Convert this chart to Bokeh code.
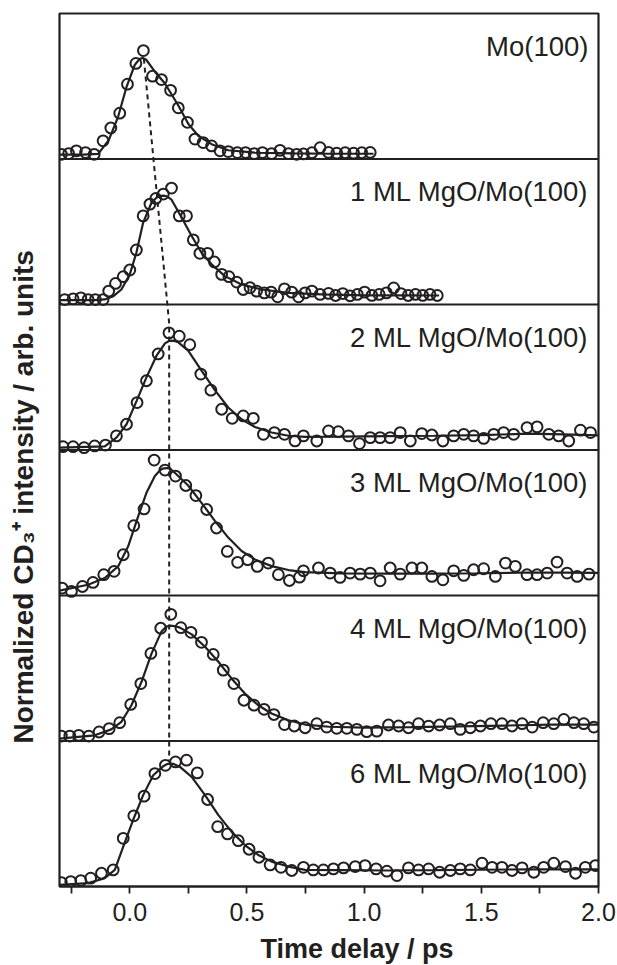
from bokeh.core.properties import value
from bokeh.embed import file_html
from bokeh.models import FixedTicker, LinearAxis, NumeralTickFormatter, Span, Title
from bokeh.plotting import figure
from bokeh.resources import INLINE

INK = "#231f20"
FONT = "Liberation Sans"

# ---- axis ticks ----
x_ticks = [0.0, 0.5, 1.0, 1.5, 2.0]
x_minor_ticks = [-0.25, 0.25, 0.75, 1.25, 1.75]

# ---- sample names (top to bottom) ----
panel_names = ["Mo(100)", "1 ML MgO/Mo(100)", "2 ML MgO/Mo(100)",
               "3 ML MgO/Mo(100)", "4 ML MgO/Mo(100)", "6 ML MgO/Mo(100)"]

# ---- Mo(100) ----
t_mo = [-0.292, -0.261, -0.228, -0.189, -0.152, -0.114, -0.081, -0.043, -0.010, 0.026,
        0.058, 0.097, 0.135, 0.174, 0.207, 0.246, 0.278, 0.313, 0.349, 0.385,
        0.420, 0.459, 0.494, 0.531, 0.566, 0.605, 0.641, 0.677, 0.712, 0.741,
        0.777, 0.812, 0.848, 0.883, 0.919, 0.955, 0.990, 1.026]
i_mo = [0.032, 0.037, 0.056, 0.044, 0.032, 0.125, 0.213, 0.315, 0.514, 0.657,
        0.745, 0.569, 0.546, 0.472, 0.352, 0.252, 0.137, 0.113, 0.090, 0.056,
        0.051, 0.044, 0.044, 0.037, 0.044, 0.037, 0.060, 0.037, 0.032, 0.035,
        0.043, 0.078, 0.045, 0.040, 0.043, 0.040, 0.043, 0.045]
fit_t_mo = [-0.30, -0.20, -0.135, -0.09, -0.05, -0.014, 0.021, 0.040, 0.055, 0.070,
            0.107, 0.150, 0.207, 0.250, 0.292, 0.349, 0.420, 0.534, 0.70, 0.85, 1.04]
fit_i_mo = [0.030, 0.030, 0.035, 0.13, 0.29, 0.495, 0.646, 0.685, 0.695, 0.682,
            0.600, 0.519, 0.368, 0.241, 0.160, 0.102, 0.060, 0.044, 0.038, 0.036, 0.036]

# ---- 1 ML MgO/Mo(100) ----
t_1ml = [-0.278, -0.242, -0.209, -0.178, -0.147, -0.114, -0.090, -0.061, -0.028, 0.000,
         0.028, 0.057, 0.086, 0.111, 0.143, 0.178, 0.211, 0.242, 0.271, 0.299,
         0.332, 0.361, 0.392, 0.423, 0.456, 0.484, 0.513, 0.541, 0.574, 0.603,
         0.631, 0.660, 0.691, 0.720, 0.748, 0.777, 0.812, 0.848,
         0.878, 0.909, 0.940, 0.971, 1.002, 1.033, 1.064, 1.095, 1.126, 1.157,
         1.188, 1.219, 1.250, 1.281, 1.312]
i_1ml = [0.034, 0.039, 0.046, 0.034, 0.034, 0.034, 0.092, 0.145, 0.191, 0.237,
         0.375, 0.609, 0.690, 0.729, 0.759, 0.800, 0.609, 0.609, 0.444, 0.352,
         0.352, 0.292, 0.207, 0.191, 0.154, 0.103, 0.115, 0.092, 0.080, 0.085,
         0.053, 0.108, 0.085, 0.053, 0.080, 0.092, 0.069, 0.076,
         0.062, 0.075, 0.060, 0.069, 0.085, 0.062, 0.069, 0.080, 0.114, 0.075,
         0.062, 0.069, 0.062, 0.069, 0.062]
fit_t_1ml = [-0.30, -0.15, -0.107, -0.070, -0.036, 0.000, 0.028, 0.057, 0.093, 0.115,
             0.128, 0.145, 0.160, 0.178, 0.221, 0.264, 0.306, 0.349, 0.406, 0.477,
             0.563, 0.677, 0.819, 1.00, 1.15, 1.32]
fit_i_1ml = [0.030, 0.030, 0.035, 0.057, 0.103, 0.207, 0.356, 0.563, 0.701, 0.735,
             0.745, 0.748, 0.742, 0.720, 0.598, 0.471, 0.356, 0.276, 0.195, 0.138,
             0.103, 0.080, 0.069, 0.063, 0.063, 0.062]

# ---- 2 ML MgO/Mo(100) ----
t_2ml = [-0.285, -0.242, -0.195, -0.150, -0.104, -0.057, -0.014, 0.031, 0.071, 0.121,
         0.167, 0.211, 0.256, 0.303, 0.346, 0.392, 0.437, 0.484, 0.527, 0.570,
         0.617, 0.660, 0.705,
         0.741, 0.798, 0.848, 0.890, 0.933, 0.980, 1.026, 1.068, 1.111, 1.154,
         1.197, 1.246, 1.289, 1.336, 1.382, 1.425, 1.467, 1.510, 1.553, 1.595,
         1.638, 1.695, 1.738, 1.788, 1.830, 1.873, 1.923, 1.966]
i_2ml = [0.023, 0.023, 0.016, 0.028, 0.034, 0.097, 0.177, 0.326, 0.476, 0.660,
         0.805, 0.782, 0.724, 0.522, 0.411, 0.280, 0.218, 0.234, 0.218, 0.108,
         0.120, 0.108, 0.062,
         0.097, 0.062, 0.131, 0.126, 0.097, 0.044, 0.085, 0.085, 0.085, 0.120,
         0.062, 0.113, 0.103, 0.062, 0.097, 0.108, 0.097, 0.080, 0.108, 0.120,
         0.108, 0.154, 0.159, 0.108, 0.097, 0.062, 0.136, 0.120]
fit_t_2ml = [-0.30, -0.107, -0.057, -0.014, 0.029, 0.071, 0.114, 0.150, 0.171, 0.190,
             0.207, 0.249, 0.306, 0.363, 0.420, 0.477, 0.534, 0.605, 0.677, 0.748,
             0.90, 1.10, 1.30, 1.50, 1.70, 1.85, 2.0]
fit_i_2ml = [0.016, 0.025, 0.085, 0.177, 0.338, 0.499, 0.648, 0.733, 0.752, 0.750,
             0.740, 0.683, 0.545, 0.411, 0.292, 0.211, 0.158, 0.120, 0.098, 0.090,
             0.092, 0.096, 0.098, 0.102, 0.112, 0.108, 0.100]

# ---- 3 ML MgO/Mo(100) ----
t_3ml = [-0.289, -0.249, -0.202, -0.157, -0.111, -0.067, -0.028, 0.017, 0.061, 0.104,
         0.150, 0.195, 0.239, 0.282, 0.328, 0.370, 0.416, 0.460, 0.503, 0.544,
         0.591, 0.634, 0.681, 0.724,
         0.741, 0.805, 0.855, 0.897, 0.940, 0.983, 1.026, 1.068, 1.111, 1.154,
         1.204, 1.246, 1.289, 1.336, 1.382, 1.425, 1.467, 1.510, 1.560, 1.603,
         1.645, 1.695, 1.738, 1.781, 1.823, 1.866, 1.909, 1.959]
i_3ml = [0.051, 0.028, 0.062, 0.090, 0.143, 0.166, 0.280, 0.480, 0.595, 0.931,
         0.862, 0.821, 0.756, 0.687, 0.591, 0.464, 0.303, 0.228, 0.246, 0.200,
         0.223, 0.143, 0.103, 0.126,
         0.170, 0.189, 0.154, 0.124, 0.154, 0.147, 0.154, 0.101, 0.189, 0.147,
         0.189, 0.189, 0.131, 0.108, 0.170, 0.138, 0.177, 0.184, 0.131, 0.223,
         0.200, 0.143, 0.143, 0.154, 0.230, 0.154, 0.131, 0.147]
fit_t_3ml = [-0.30, -0.178, -0.107, -0.050, -0.007, 0.036, 0.071, 0.107, 0.130, 0.145,
             0.160, 0.175, 0.192, 0.249, 0.306, 0.363, 0.420, 0.477, 0.534, 0.605,
             0.677, 0.748, 0.90, 1.10, 1.30, 1.50, 1.70, 1.85, 2.0]
fit_i_3ml = [0.034, 0.074, 0.120, 0.200, 0.338, 0.545, 0.706, 0.821, 0.862, 0.874,
             0.876, 0.868, 0.844, 0.756, 0.637, 0.513, 0.398, 0.306, 0.248, 0.202,
             0.175, 0.161, 0.152, 0.150, 0.150, 0.153, 0.158, 0.157, 0.155]

# ---- 4 ML MgO/Mo(100) ----
t_4ml = [-0.292, -0.256, -0.218, -0.175, -0.131, -0.088, -0.043, 0.004, 0.047, 0.090,
         0.132, 0.175, 0.218, 0.261, 0.306, 0.356, 0.399, 0.444, 0.487, 0.530,
         0.573, 0.615, 0.660, 0.702,
         0.748, 0.798, 0.840, 0.883, 0.926, 0.969, 1.011, 1.054, 1.104, 1.147,
         1.189, 1.232, 1.275, 1.322, 1.368, 1.410, 1.453, 1.496, 1.541, 1.588,
         1.631, 1.674, 1.717, 1.764, 1.809, 1.852, 1.895, 1.937, 1.980]
i_4ml = [0.034, 0.034, 0.039, 0.034, 0.062, 0.085, 0.126, 0.251, 0.395, 0.602,
         0.775, 0.871, 0.779, 0.747, 0.678, 0.595, 0.487, 0.395, 0.280, 0.246,
         0.218, 0.182, 0.113, 0.103,
         0.091, 0.119, 0.096, 0.087, 0.087, 0.080, 0.064, 0.068, 0.110, 0.103,
         0.091, 0.119, 0.103, 0.110, 0.119, 0.080, 0.091, 0.103, 0.119, 0.119,
         0.103, 0.119, 0.096, 0.126, 0.119, 0.148, 0.126, 0.119, 0.096]
fit_t_4ml = [-0.30, -0.150, -0.079, -0.036, 0.007, 0.050, 0.093, 0.135, 0.155, 0.171,
             0.190, 0.214, 0.264, 0.321, 0.378, 0.434, 0.491, 0.548, 0.605, 0.677,
             0.748, 0.85, 1.00, 1.20, 1.40, 1.60, 1.80, 2.0]
fit_i_4ml = [0.016, 0.039, 0.080, 0.131, 0.246, 0.407, 0.602, 0.752, 0.785, 0.793,
             0.790, 0.779, 0.733, 0.648, 0.545, 0.430, 0.326, 0.246, 0.189, 0.143,
             0.113, 0.098, 0.092, 0.095, 0.100, 0.106, 0.112, 0.112]

# ---- 6 ML MgO/Mo(100) ----
t_6ml = [-0.292, -0.252, -0.209, -0.167, -0.121, -0.071, -0.028, 0.017, 0.061, 0.107,
         0.152, 0.195, 0.242, 0.288, 0.332, 0.375, 0.417, 0.463, 0.509, 0.551,
         0.599, 0.645, 0.691,
         0.741, 0.783, 0.826, 0.869, 0.912, 0.962, 1.004, 1.051, 1.097, 1.140,
         1.189, 1.232, 1.275, 1.322, 1.368, 1.410, 1.453, 1.503, 1.546, 1.588,
         1.631, 1.674, 1.724, 1.766, 1.809, 1.859, 1.902, 1.944, 1.987]
i_6ml = [0.027, 0.034, 0.041, 0.057, 0.091, 0.114, 0.331, 0.486, 0.621, 0.776,
         0.833, 0.856, 0.868, 0.781, 0.598, 0.411, 0.361, 0.315, 0.256, 0.201,
         0.148, 0.132, 0.110,
         0.132, 0.114, 0.114, 0.121, 0.128, 0.137, 0.144, 0.121, 0.105, 0.075,
         0.128, 0.114, 0.121, 0.098, 0.110, 0.121, 0.114, 0.160, 0.132, 0.132,
         0.110, 0.128, 0.098, 0.132, 0.160, 0.137, 0.091, 0.132, 0.144]
fit_t_6ml = [-0.30, -0.178, -0.107, -0.064, -0.028, 0.014, 0.057, 0.100, 0.142, 0.160,
             0.171, 0.185, 0.214, 0.264, 0.321, 0.378, 0.434, 0.491, 0.548, 0.605,
             0.677, 0.748, 0.90, 1.10, 1.30, 1.50, 1.70, 1.90, 2.0]
fit_i_6ml = [0.011, 0.023, 0.057, 0.114, 0.274, 0.457, 0.628, 0.765, 0.826, 0.842,
             0.845, 0.843, 0.822, 0.753, 0.628, 0.491, 0.377, 0.285, 0.217, 0.171,
             0.137, 0.114, 0.112, 0.110, 0.112, 0.115, 0.118, 0.118, 0.118]

# ---- peak-shift guide: (panel index, delay, intensity in that panel) ----
guide_panel = [0, 2, 5]
guide_t = [0.060, 0.168, 0.168]
guide_i = [0.69, 0.87, 0.87]

series = [
    (t_mo, i_mo, fit_t_mo, fit_i_mo),
    (t_1ml, i_1ml, fit_t_1ml, fit_i_1ml),
    (t_2ml, i_2ml, fit_t_2ml, fit_i_2ml),
    (t_3ml, i_3ml, fit_t_3ml, fit_i_3ml),
    (t_4ml, i_4ml, fit_t_4ml, fit_i_4ml),
    (t_6ml, i_6ml, fit_t_6ml, fit_i_6ml),
]
n_panels = len(series)

p = figure(width=617, height=965, x_range=(-0.3, 2.0), y_range=(0, n_panels),
           y_axis_location=None,
           output_backend="svg", toolbar_location=None,
           min_border_left=59, min_border_right=19,
           min_border_top=13, min_border_bottom=79)
p.background_fill_color = "white"
p.border_fill_color = "white"
p.xgrid.visible = False
p.ygrid.visible = False
p.outline_line_color = INK
p.outline_line_width = 2.2
p.outline_line_alpha = 1.0

# each trace sits in its own horizontal strip, stacked top to bottom
for k, (t, inten, ft, fi) in enumerate(series):
    base = n_panels - 1 - k
    p.line(ft, [v + base for v in fi], line_color=INK, line_width=2.2)
    p.scatter(t, [v + base for v in inten], marker="circle", size=10.8,
              fill_color=None, line_color=INK, line_width=2.0)

for k in range(1, n_panels):
    p.add_layout(Span(location=k, dimension="width", line_color=INK, line_width=2.2))

gy = [(n_panels - 1 - pk) + v for pk, v in zip(guide_panel, guide_i)]
p.line(guide_t, gy, line_color=INK, line_width=2.0, line_dash="5 4")

label_y = [n_panels - k - 0.225 for k in range(n_panels)]
p.text(x=[1.957] * n_panels, y=label_y, text=panel_names,
       text_font=value(FONT), text_font_size=value("27.5px"), text_color=INK,
       text_align="right", text_baseline="alphabetic")

ax = p.xaxis[0]
ax.ticker = FixedTicker(ticks=x_ticks, minor_ticks=x_minor_ticks)
ax.formatter = NumeralTickFormatter(format="0.0")
ax.axis_line_color = INK
ax.axis_line_width = 2.2
ax.major_tick_in = 0
ax.major_tick_out = 7
ax.minor_tick_in = 0
ax.minor_tick_out = 7
ax.major_tick_line_color = INK
ax.minor_tick_line_color = INK
ax.major_tick_line_width = 1.8
ax.minor_tick_line_width = 1.8
ax.major_label_text_font = FONT
ax.major_label_text_font_size = "25px"
ax.major_label_text_color = INK
ax.major_label_standoff = 9


def gap_axis(px, at):
    """An axis with one unlabeled, hairline white tick: it only reserves `px` pixels."""
    return LinearAxis(ticker=FixedTicker(ticks=[at], minor_ticks=[]),
                      axis_line_color=None,
                      major_tick_line_color="white", major_tick_line_width=0.1,
                      minor_tick_line_color=None,
                      major_tick_in=0, major_tick_out=px,
                      minor_tick_in=0, minor_tick_out=0,
                      major_label_overrides={at: ""},
                      major_label_text_font_size="0px",
                      major_label_standoff=0)


# axis titles live in the side panels, shifted along the frame edge
x_title = Title(text="Time delay / ps", align="left", offset=201, standoff=0,
                text_font=FONT, text_font_style="bold", text_font_size="27px",
                text_color=INK)
y_title = Title(text="Normalized CD\u2083\u207a intensity / arb. units",
                align="left", offset=143, standoff=0,
                text_font=FONT, text_font_style="bold", text_font_size="28px",
                text_color=INK)
p.add_layout(gap_axis(8, 2.0), "below")
p.add_layout(x_title, "below")
p.add_layout(gap_axis(21, 3.0), "left")
p.add_layout(y_title, "left")

open("out.html", "w").write(file_html(p, INLINE))
